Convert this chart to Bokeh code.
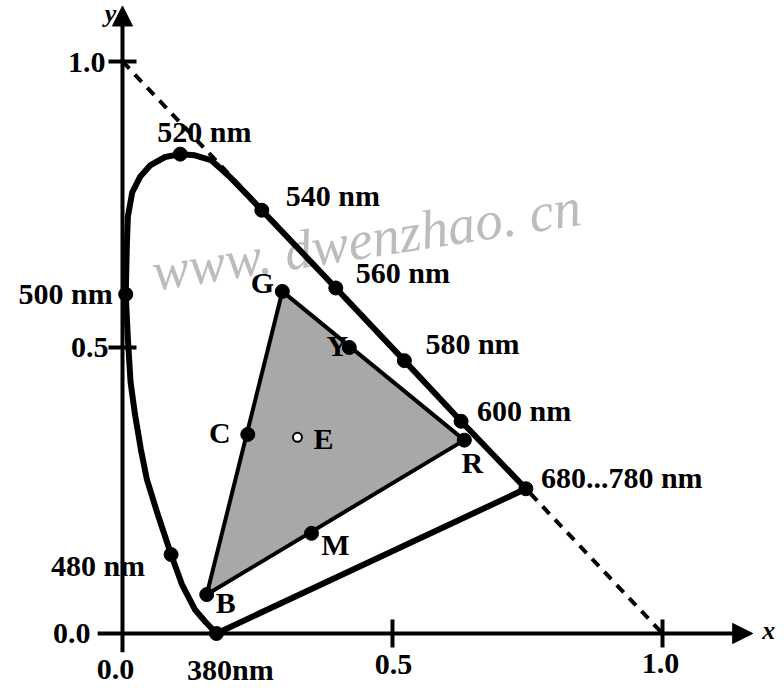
import math
from bokeh.plotting import figure
from bokeh.models import ColumnDataSource, Arrow, NormalHead, Range1d
from bokeh.core.properties import value
from bokeh.embed import file_html
from bokeh.resources import INLINE

# ---------------- data ----------------
# spectral locus (x, y chromaticity), from 380 nm round to 680...780 nm
locus_x = [0.174, 0.153, 0.134, 0.110, 0.090, 0.064, 0.045, 0.034, 0.023, 0.015,
           0.010, 0.006, 0.008, 0.010, 0.018, 0.033, 0.052, 0.079, 0.107, 0.134,
           0.165, 0.200, 0.232, 0.258, 0.395, 0.522, 0.627, 0.747]
locus_y = [0.000, 0.021, 0.042, 0.086, 0.138, 0.212, 0.270, 0.322, 0.384, 0.439,
           0.515, 0.593, 0.677, 0.729, 0.771, 0.799, 0.819, 0.833, 0.838, 0.836,
           0.827, 0.797, 0.766, 0.740, 0.604, 0.477, 0.371, 0.253]

# marked wavelengths on the locus
wl_labels = ["380nm", "480 nm", "500 nm", "520 nm", "540 nm", "560 nm",
             "580 nm", "600 nm", "680...780 nm"]
wl_x = [0.174, 0.090, 0.006, 0.107, 0.258, 0.395, 0.522, 0.627, 0.747]
wl_y = [0.000, 0.138, 0.593, 0.838, 0.740, 0.604, 0.477, 0.371, 0.253]

# primaries (triangle corners)
prim_names = ["R", "G", "B"]
prim_x = [0.633, 0.296, 0.156]
prim_y = [0.338, 0.598, 0.068]

# mixtures on the triangle edges
mix_names = ["Y", "C", "M"]
mix_x = [0.420, 0.232, 0.350]
mix_y = [0.500, 0.348, 0.175]

# equal-energy white
white_names = ["E"]
white_x = [0.324]
white_y = [0.343]

# axes ticks
tick_values = [0.0, 0.5, 1.0]
tick_labels = ["0.0", "0.5", "1.0"]

# ---------------- styling ----------------
FONT = value("Liberation Serif")
FS = "30px"

p = figure(width=784, height=688, output_backend="svg", toolbar_location=None,
           x_range=Range1d(-0.2259, 1.2259), y_range=Range1d(-0.0962, 1.1066),
           x_axis_location=None, y_axis_location=None, min_border=0)
p.grid.visible = False
p.outline_line_color = None
p.background_fill_color = "white"
p.border_fill_color = "white"

# watermark
p.text(x=[0.0556], y=[0.631], text=["www. dwenzhao. cn"], angle=8.8, angle_units="deg",
       text_color="#bcbcbc", text_font=value("Liberation Serif"), text_font_style="italic",
       text_font_size="55px", text_baseline="alphabetic", text_align="left")

# shaded triangle
tri_x = prim_x + [prim_x[0]]
tri_y = prim_y + [prim_y[0]]
p.patch(tri_x, tri_y, fill_color="#a8a8a8", line_color=None)
p.line(tri_x, tri_y, line_color="black", line_width=4, line_join="round")

# dashed line x + y = 1
p.line([0.0, 1.0], [1.0, 0.0], line_color="black", line_width=4, line_dash="10 8")

# spectral locus plus purple line, closed
p.line(locus_x + [locus_x[0]], locus_y + [locus_y[0]], line_color="black",
       line_width=6, line_join="round", line_cap="round")

# axes with arrows
p.add_layout(Arrow(end=NormalHead(size=20, fill_color="black", line_color="black"),
                   x_start=-0.046, y_start=0.0, x_end=1.167, y_end=0.0,
                   line_width=4, line_color="black"))
p.add_layout(Arrow(end=NormalHead(size=20, fill_color="black", line_color="black"),
                   x_start=0.0, y_start=-0.033, x_end=0.0, y_end=1.097,
                   line_width=4, line_color="black"))
nz = [t for t in tick_values if t > 0]
p.scatter(x=nz, y=[0.0] * len(nz), marker="dash", size=28, angle=math.pi / 2,
          line_color="black", line_width=4)
p.scatter(x=[0.0] * len(nz), y=nz, marker="dash", size=28,
          line_color="black", line_width=4)

# dots
p.scatter(wl_x, wl_y, size=14, marker="circle", fill_color="black", line_color="black")
p.scatter(prim_x, prim_y, size=14, marker="circle", fill_color="black", line_color="black")
p.scatter(mix_x, mix_y, size=14, marker="circle", fill_color="black", line_color="black")
p.scatter(white_x, white_y, size=9, marker="circle", fill_color="white",
          line_color="black", line_width=2)

def labels(xs, ys, texts, dx, dy, align, size=FS, style="bold"):
    src = ColumnDataSource(dict(x=xs, y=ys, t=texts, dx=dx, dy=dy))
    p.text(x="x", y="y", text="t", x_offset="dx", y_offset="dy", source=src,
           text_align=align, text_baseline="middle", text_font=FONT,
           text_font_style=style, text_font_size=size, text_color="black")

# wavelength labels
labels(wl_x[:1], wl_y[:1], wl_labels[:1], [14], [36], "center")
labels(wl_x[1:3], wl_y[1:3], wl_labels[1:3], [-26, -13], [11, -1], "right")
labels(wl_x[3:], wl_y[3:], wl_labels[3:], [-23, 24, 20, 21, 16, 15],
       [-23, -15, -15, -17, -11, -11], "left")

# point labels
labels(prim_x, prim_y, prim_names, [8, -20, 19], [22, -9, 8], "center")
labels(mix_x, mix_y, mix_names, [-12, -28, 24], [-2, -2, 11], "center")
labels(white_x, white_y, white_names, [26], [1], "center")

# tick labels
labels(tick_values, [0.0] * 3, tick_labels, [-7, 1, -2], [36, 31, 30], "center")
labels([0.0] * 3, tick_values, tick_labels, [-32, -14, -17], [0, 0, 1], "right")

# axis names
labels([1.167], [0.0], ["x"], [16], [-3], "center", size="26px", style="bold italic")
labels([0.0], [1.097], ["y"], [-12], [8], "center", size="26px", style="bold italic")

open("out.html", "w").write(file_html(p, INLINE))
